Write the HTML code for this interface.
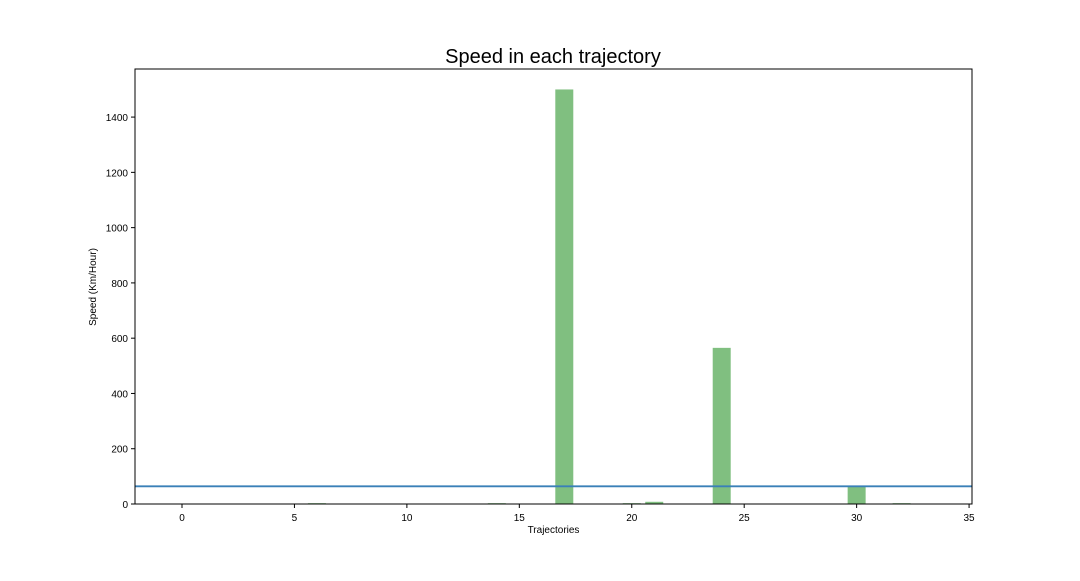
<!DOCTYPE html>
<html><head><meta charset="utf-8"><style>
body{margin:0;background:#fff;font-family:"Liberation Sans",sans-serif;}
svg text{font-family:"Liberation Sans",sans-serif;}
</style></head><body>
<svg id="chart" width="1080" height="576" xmlns="http://www.w3.org/2000/svg">
<rect width="1080" height="576" fill="#fff"/>
<text x="553" y="63" text-anchor="middle" font-size="20">Speed in each trajectory</text>
<g id="bars"></g>
<g id="axes"></g>
</svg>
<script>
const categories = [6, 14, 17, 20, 21, 24, 30, 32];
const speeds = [3, 3, 1500, 3, 8, 565, 63, 3];
const xTicks = [0, 5, 10, 15, 20, 25, 30, 35];
const yTicks = [0, 200, 400, 600, 800, 1000, 1200, 1400];
const refLine = [64];

const L=135,R=972,T=69,B=504;
const xmin=-2.09,xmax=35.13,ymin=0,ymax=1574;
const sx=v=>L+(v-xmin)/(xmax-xmin)*(R-L);
const sy=v=>B-(v-ymin)/(ymax-ymin)*(B-T);
const NS='http://www.w3.org/2000/svg';
function mk(tag,attrs,parent){const e=document.createElementNS(NS,tag);for(const k in attrs)e.setAttribute(k,attrs[k]);parent.appendChild(e);return e;}
const bars=document.getElementById('bars'),axes=document.getElementById('axes');
categories.forEach((c,i)=>{
  const x0=sx(c-0.4),x1=sx(c+0.4),y=sy(speeds[i]);
  const r=mk('rect',{x:x0,y:y,width:x1-x0,height:B-y,fill:'#80bf80'},bars);
  
  
});
const ln=mk('line',{x1:L,x2:R,y1:sy(refLine[0]),y2:sy(refLine[0]),stroke:'#3a80b8','stroke-width':1.8},bars);


const fr=mk('rect',{x:L,y:T,width:R-L,height:B-T,fill:'none',stroke:'#000','stroke-width':1},axes);


xTicks.forEach(t=>{
  const x=sx(t);
  mk('line',{x1:x,x2:x,y1:B,y2:B+4,stroke:'#000'},axes);
  const tx=mk('text',{x:x,y:B+17,'text-anchor':'middle','font-size':10},axes);
  tx.textContent=t;
  
  
});
yTicks.forEach(t=>{
  const y=sy(t);
  mk('line',{x1:L-4,x2:L,y1:y,y2:y,stroke:'#000'},axes);
  const tx=mk('text',{x:L-7,y:y+4,'text-anchor':'end','font-size':10},axes);
  tx.textContent=t;
  
  
});
const xl=mk('text',{x:(L+R)/2,y:533,'text-anchor':'middle','font-size':10},axes);
xl.textContent='Trajectories';


const yl=mk('text',{x:0,y:0,'text-anchor':'middle','font-size':10,transform:'translate(96,287) rotate(-90)'},axes);
yl.textContent='Speed (Km/Hour)';


</script>
</body></html>
